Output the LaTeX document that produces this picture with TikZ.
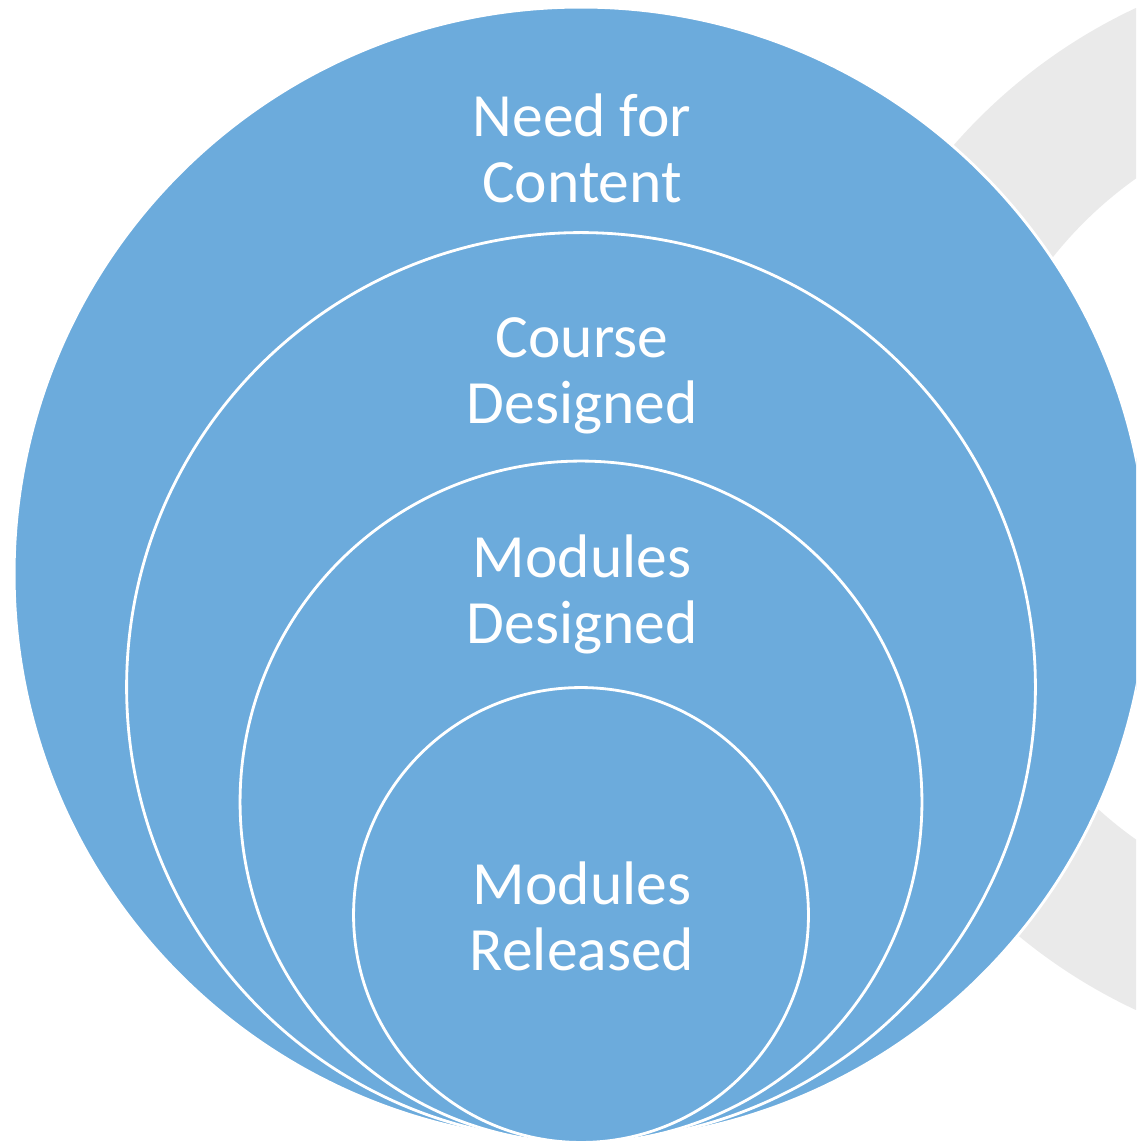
\documentclass[tikz,border=0pt]{standalone}
\usepackage{fontspec}
\setmainfont{Carlito}
\definecolor{ringblue}{RGB}{108,171,220}
\definecolor{ringgray}{RGB}{234,234,234}
\tikzset{
  stage/.style={draw=white, line width=1.6pt, fill=ringblue, circle, inner sep=0pt},
  stagetext/.style={text=white, align=center, inner sep=0pt, font=\fontsize{35}{37.5}\selectfont}
}
\begin{document}
\begin{tikzpicture}[x=0.02cm,y=-0.02cm]
\useasboundingbox (0,0) rectangle (1136,1141);
\clip (0,0) rectangle (1136,1141);

% grey ring behind
\fill[ringgray, even odd rule] (1370,509) circle (11.06cm) (1370,509) circle (8.1cm);

% nested stages
\node[stage, minimum size=22.68cm] (c1) at (581,574) {};
\node[stage, minimum size=18.18cm] (c2) at (581,687) {};
\node[stage, minimum size=13.64cm] (c3) at (581,802) {};
\node[stage, minimum size=9.1cm] (c4) at (581,915) {};

\node[stagetext] (t1) at (582,148) {Need for\\Content};
\node[stagetext] (t2) at (582,376) {Course\\Designed};
\node[stagetext] (t3) at (582,594) {Modules\\Designed};
\node[stagetext] (t4) at (582,916) {Modules\\Released};
\end{tikzpicture}
\end{document}
